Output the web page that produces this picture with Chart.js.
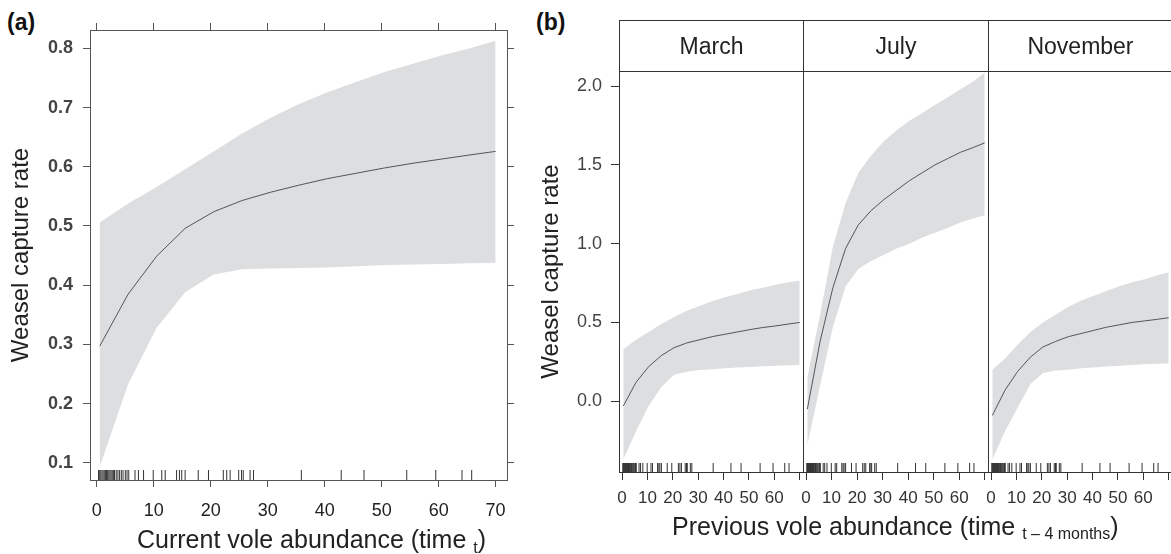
<!DOCTYPE html>
<html>
<head>
<meta charset="utf-8">
<script src="https://cdn.jsdelivr.net/npm/chart.js@4.4.1/dist/chart.umd.min.js"></script>
<style>
  body{margin:0;background:#fff;}
  #fig{position:relative;width:1171px;height:554px;overflow:hidden;font-family:"Liberation Sans",Arial,sans-serif;color:#222;}
  #fig canvas{position:absolute;top:0;}
  .tag{position:absolute;font-weight:bold;font-size:23px;line-height:23px;color:#111;}
  .xlab{position:absolute;font-size:25px;line-height:25px;white-space:nowrap;}
  .xlab sub{font-size:16px;line-height:0;}
  .strip{position:absolute;top:20px;height:52px;box-sizing:border-box;border:1px solid #333;font-size:23px;line-height:50px;text-align:center;color:#222;}
</style>
</head>
<body>
<div id="fig">
  <div class="tag" style="left:7px;top:11px">(a)</div>
  <canvas id="chA" width="520" height="554" style="left:0"></canvas>
  <div class="xlab" style="left:137px;top:527px">Current vole abundance (time <sub style="vertical-align:-5px">t</sub>)</div>

  <div class="tag" style="left:536px;top:11px">(b)</div>
  <canvas id="chMar" width="283" height="554" style="left:530px"></canvas>
  <canvas id="chJul" width="205" height="554" style="left:793px"></canvas>
  <canvas id="chNov" width="204" height="554" style="left:978px"></canvas>
  <div id="xlabB" class="xlab" style="top:514px">Previous vole abundance (time <sub style="vertical-align:-4px">t &#8211; 4 months</sub>)</div>
</div>
<script>
var FONT = '"Liberation Sans", Arial, sans-serif';
var BAND = '#dddee0';
var LINE = '#555555';
var RUG = '#333333';

// x positions of the fitted curves
var fitX = [0.5, 5.5, 10.5, 15.5, 20.5, 25.5, 30.5, 35.5, 40.5, 45.5, 50.5, 55.5, 60.5, 65.5, 70];

// (a) current vole abundance
var aFit = [0.297, 0.385, 0.449, 0.496, 0.524, 0.543, 0.557, 0.569, 0.580, 0.589, 0.598, 0.606, 0.613, 0.620, 0.626];
var aLow = [0.093, 0.233, 0.328, 0.388, 0.418, 0.427, 0.428, 0.429, 0.430, 0.432, 0.434, 0.435, 0.436, 0.437, 0.438];
var aUpp = [0.506, 0.538, 0.566, 0.596, 0.626, 0.656, 0.683, 0.706, 0.726, 0.743, 0.760, 0.774, 0.788, 0.800, 0.813];
var aXTicks = [0, 10, 20, 30, 40, 50, 60, 70];
var aYTicks = [0.1, 0.2, 0.3, 0.4, 0.5, 0.6, 0.7, 0.8];

// (b) previous vole abundance, by month
var months = ['March', 'July', 'November'];
var marFit = [-0.03, 0.12, 0.22, 0.29, 0.34, 0.37, 0.39, 0.41, 0.425, 0.44, 0.455, 0.468, 0.478, 0.49, 0.50];
var marLow = [-0.37, -0.19, -0.03, 0.09, 0.168, 0.188, 0.198, 0.203, 0.21, 0.214, 0.218, 0.222, 0.225, 0.228, 0.23];
var marUpp = [0.33, 0.39, 0.44, 0.49, 0.535, 0.575, 0.605, 0.635, 0.66, 0.68, 0.705, 0.72, 0.74, 0.755, 0.765];
var julFit = [-0.05, 0.38, 0.72, 0.97, 1.12, 1.21, 1.28, 1.34, 1.40, 1.45, 1.50, 1.54, 1.58, 1.61, 1.64];
var julLow = [-0.28, 0.10, 0.47, 0.73, 0.84, 0.89, 0.93, 0.97, 1.00, 1.04, 1.07, 1.10, 1.135, 1.16, 1.18];
var julUpp = [0.15, 0.55, 0.98, 1.26, 1.45, 1.56, 1.65, 1.72, 1.78, 1.83, 1.88, 1.93, 1.98, 2.03, 2.085];
var novFit = [-0.09, 0.07, 0.19, 0.28, 0.345, 0.38, 0.41, 0.43, 0.45, 0.47, 0.485, 0.50, 0.51, 0.52, 0.53];
var novLow = [-0.37, -0.19, -0.04, 0.11, 0.18, 0.195, 0.20, 0.21, 0.215, 0.22, 0.225, 0.23, 0.235, 0.238, 0.24];
var novUpp = [0.20, 0.27, 0.36, 0.44, 0.50, 0.55, 0.60, 0.64, 0.67, 0.70, 0.73, 0.755, 0.775, 0.80, 0.818];
var bXTicks = [0, 10, 20, 30, 40, 50, 60, 70];
var bXLabels = ['0', '10', '20', '30', '40', '50', '60', ''];
var bYTicks = [0, 0.5, 1, 1.5, 2];

// observed vole abundances (rug)
var rugX = [0.3, 0.5, 0.7, 0.9, 1.1, 1.3, 1.5, 1.7, 1.9, 2.1, 2.3, 2.5, 2.7, 2.9, 3.1, 3.4, 3.7, 4.0, 4.3, 4.6, 5.0, 5.3,
  5.6, 6.7, 7.3, 8.2, 9.9, 11.4, 12.0, 14.0, 14.5, 14.9, 15.5, 17.8, 19.6, 22.2, 22.8, 23.4, 24.9, 25.4, 25.7, 26.9, 27.5,
  35.9, 42.9, 46.9, 54.4, 59.5, 64.1, 65.8];

Chart.defaults.font.family = FONT;

var framePlugin = {
  id: 'frame',
  afterDatasetsDraw: function(chart, args, opts){
    var a = chart.chartArea, ctx = chart.ctx;
    ctx.save();
    ctx.strokeStyle = opts.color || '#333';
    ctx.lineWidth = 1;
    ctx.strokeRect(a.left + 0.5, a.top + 0.5, a.right - a.left, a.bottom - a.top);
    ctx.restore();
  }
};

function pts(xs, ys){ return xs.map(function(x, i){ return {x: x, y: ys[i]}; }); }

// datasets are painted last-to-first: band, then rug, then the fitted line on top
function sets(fit, low, upp, rugY, rugLen){
  return [
    {data: pts(fitX, fit), borderWidth: 1, borderColor: LINE, pointRadius: 0, fill: false},
    {data: rugX.map(function(x){ return {x: x, y: rugY}; }), showLine: false, pointStyle: 'line', rotation: 90,
     pointRadius: rugLen, pointBorderColor: RUG, pointBorderWidth: 1, clip: 0},
    {data: pts(fitX, low), borderWidth: 0, borderColor: 'transparent', pointRadius: 0, fill: false},
    {data: pts(fitX, upp), borderWidth: 0, borderColor: 'transparent', pointRadius: 0, fill: '-1', backgroundColor: BAND}
  ];
}

function setTicks(vals){ return function(s){ s.ticks = vals.map(function(v){ return {value: v}; }); }; }
function tickGrid(len, color){ return {drawOnChartArea: false, drawTicks: true, tickLength: len, color: color, lineWidth: 1}; }

var base = {responsive: false, animation: false, events: []};

// ---- panel (a)
var A_X = [-1.2, 72], A_Y = [0.071, 0.831];
new Chart(document.getElementById('chA'), {
  type: 'line',
  data: {datasets: sets(aFit, aLow, aUpp, A_Y[0], 10)},
  plugins: [framePlugin],
  options: Object.assign({}, base, {
    layout: {padding: 0},
    plugins: {legend: {display: false}, tooltip: {enabled: false}, frame: {color: '#555'}},
    scales: {
      x: {type: 'linear', position: 'bottom', min: A_X[0], max: A_X[1],
        afterBuildTicks: setTicks(aXTicks), afterFit: function(s){ s.height = 74; },
        grid: tickGrid(7, '#555'), border: {display: false},
        ticks: {autoSkip: false, maxRotation: 0, padding: 13, color: '#222', font: {size: 18},
          callback: function(v){ return String(v); }}},
      x2: {type: 'linear', position: 'top', min: A_X[0], max: A_X[1],
        afterBuildTicks: setTicks(aXTicks), afterFit: function(s){ s.height = 30; },
        grid: tickGrid(7, '#555'), border: {display: false}, ticks: {display: false}},
      y: {type: 'linear', position: 'left', min: A_Y[0], max: A_Y[1],
        afterBuildTicks: setTicks(aYTicks), afterFit: function(s){ s.width = 90; },
        grid: tickGrid(7, '#555'), border: {display: false},
        ticks: {autoSkip: false, padding: 10, color: '#444', font: {size: 18, weight: 'bold'},
          callback: function(v){ return v.toFixed(1); }},
        title: {display: true, text: 'Weasel capture rate', color: '#222', font: {size: 24}, padding: {top: 7, bottom: 0}}},
      y2: {type: 'linear', position: 'right', min: A_Y[0], max: A_Y[1],
        afterBuildTicks: setTicks(aYTicks), afterFit: function(s){ s.width = 13; },
        grid: tickGrid(7, '#555'), border: {display: false}, ticks: {display: false}}
    }
  })
});

// ---- panel (b)
var B_X = [-1.2, 71.3], B_Y = [-0.449, 2.096];
function monthChart(id, fit, low, upp, withAxis){
  var pad = withAxis ? {top: 71, left: 0, right: 10, bottom: 0} : {top: 71, left: 10, right: 10, bottom: 0};
  return new Chart(document.getElementById(id), {
    type: 'line',
    data: {datasets: sets(fit, low, upp, B_Y[0], 9)},
    plugins: [framePlugin],
    options: Object.assign({}, base, {
      layout: {padding: pad},
      plugins: {legend: {display: false}, tooltip: {enabled: false}, frame: {color: '#333'}},
      scales: {
        x: {type: 'linear', position: 'bottom', min: B_X[0], max: B_X[1],
          afterBuildTicks: setTicks(bXTicks), afterFit: function(s){ s.height = 82; },
          grid: tickGrid(8, '#333'), border: {display: false},
          ticks: {autoSkip: false, maxRotation: 0, padding: 8, color: '#333', font: {size: 17},
            callback: function(v, i){ return bXLabels[i]; }}},
        y: {type: 'linear', position: 'left', display: withAxis, min: B_Y[0], max: B_Y[1],
          afterBuildTicks: setTicks(bYTicks), afterFit: function(s){ s.width = withAxis ? 89 : 0; },
          grid: tickGrid(8, '#333'), border: {display: false},
          ticks: {autoSkip: false, padding: 9, color: '#444', font: {size: 18},
            callback: function(v){ return v.toFixed(1); }},
          title: {display: true, text: 'Weasel capture rate', color: '#222', font: {size: 24}, padding: {top: 7, bottom: 0}}}
      }
    })
  });
}
var bCharts = [
  monthChart('chMar', marFit, marLow, marUpp, true),
  monthChart('chJul', julFit, julLow, julUpp, false),
  monthChart('chNov', novFit, novLow, novUpp, false)
];

// strips above each month panel, and the shared x title
var fig = document.getElementById('fig');
var bLeft = null, bRight = null;
bCharts.forEach(function(c, i){
  var off = parseFloat(c.canvas.style.left);
  var l = off + c.chartArea.left, r = off + c.chartArea.right;
  var d = document.createElement('div');
  d.className = 'strip';
  d.style.left = l + 'px';
  d.style.width = (r - l + 1) + 'px';
  d.textContent = months[i];
  fig.appendChild(d);
  if (bLeft === null) bLeft = l;
  bRight = r;
});
var xb = document.getElementById('xlabB');
xb.style.left = ((bLeft + bRight) / 2 - xb.offsetWidth / 2) + 'px';
</script>
</body>
</html>
